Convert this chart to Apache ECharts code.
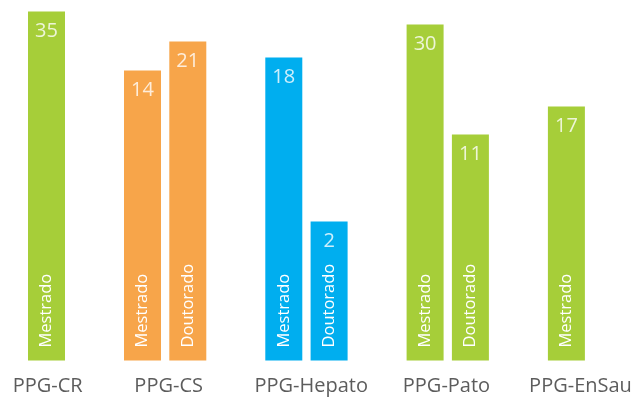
<!DOCTYPE html>
<html><head><meta charset="utf-8">
<script src="https://cdn.jsdelivr.net/npm/echarts@6/dist/echarts.min.js"></script>
<style>html,body{margin:0;padding:0;background:#fff}#c{width:635px;height:401px}</style>
</head><body><div id="c"></div>
<script>
// ---- data ----
const programs = ['PPG-CR', 'PPG-CS', 'PPG-Hepato', 'PPG-Pato', 'PPG-EnSau'];
const degrees = [['Mestrado'], ['Mestrado', 'Doutorado'], ['Mestrado', 'Doutorado'], ['Mestrado', 'Doutorado'], ['Mestrado']];
const values = [[35], [14, 21], [18, 2], [30, 11], [17]];          // numbers printed on the bars
const barHeights = [[349], [290, 319], [303, 139], [336, 226], [254]]; // drawn bar lengths

// ---- style / layout ----
const programColors = ['#A6CE39', '#F7A54A', '#00AEEF', '#A6CE39', '#A6CE39'];
const UNIT_PX = 45.3;              // one bar pitch in px
const GROUP_GAP = 96 / UNIT_PX;    // pitch between groups in bar units
const labelNudge = [1.2, 3.5, 4.8, -1.3, 14.1]; // px
const FONT = '"Open Sans", "Noto Sans", sans-serif';

const bars = [], valueLabels = [], catLabels = [];
let pos = null;
programs.forEach((p, g) => {
  const xs = [];
  degrees[g].forEach((d, i) => {
    pos = (pos === null) ? 0 : pos + (i === 0 ? GROUP_GAP : 1);
    xs.push(pos);
    bars.push({ value: [pos, barHeights[g][i]], name: d, itemStyle: { color: programColors[g] } });
    valueLabels.push({ value: [pos, barHeights[g][i]], label: { formatter: String(values[g][i]) } });
  });
  const c = (xs[0] + xs[xs.length - 1]) / 2 + labelNudge[g] / UNIT_PX;
  catLabels.push({ value: [c, 0], label: { formatter: p } });
});

const xMin = -46.5 / UNIT_PX;
const chart = echarts.init(document.getElementById('c'));
chart.setOption({
  animation: false,
  backgroundColor: '#fff',
  grid: { left: 0, right: 0, top: 0, bottom: 40.5 },
  xAxis: { type: 'value', min: xMin, max: xMin + 635 / UNIT_PX, show: false },
  yAxis: { type: 'value', min: 0, max: 360.5, show: false },
  series: [
    {
      type: 'bar', barWidth: 37, data: bars,
      label: {
        show: true, position: 'insideBottom', rotate: 90, align: 'left', verticalAlign: 'middle',
        distance: 13, formatter: '{b}', color: '#fff', fontSize: 16.5, fontFamily: FONT
      }
    },
    {
      type: 'scatter', symbolSize: 0, silent: true, data: valueLabels,
      label: { show: true, position: 'bottom', distance: 10, color: '#fff', fontSize: 20, fontFamily: FONT }
    },
    {
      type: 'scatter', symbolSize: 0, silent: true, data: catLabels,
      label: { show: true, position: 'bottom', distance: 16, color: '#333', fontSize: 20, fontFamily: FONT }
    }
  ]
});
</script></body></html>
